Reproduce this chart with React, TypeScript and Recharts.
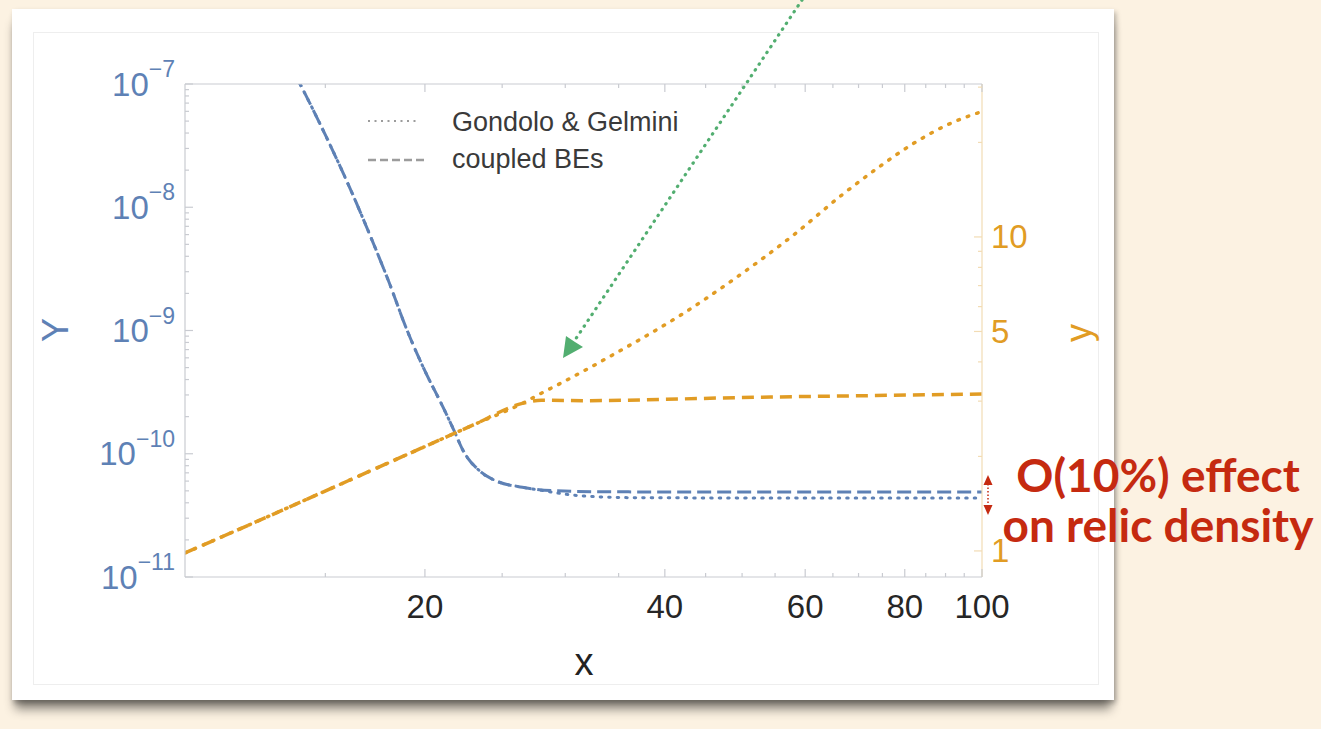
import React from 'react';
import { LineChart, Line, XAxis, YAxis } from 'recharts';

const BLUE = '#5E81B5';
const ORANGE = '#E19C24';
const FRAME = '#C9CBD1';
const FRAME_RIGHT = '#F2DCB4';
const RED = '#C52A10';
const GREEN = '#52AE70';
const FONT = '"Liberation Sans", Arial, Helvetica, sans-serif';

// Y abundance, coupled Boltzmann equations (left axis)
const coupledYX = [13, 14, 15, 16, 17, 18, 19, 20, 21, 21.8, 22.3, 23.4, 24.6, 26.5, 29.3, 33, 40, 60, 100];
const coupledY = [2.3e-7, 9.5e-8, 3.86e-8, 1.57e-8, 6.3e-9, 2.53e-9, 1.0e-9, 4.7e-10, 2.5e-10, 1.5e-10, 1.08e-10, 7.3e-11, 6.0e-11, 5.35e-11, 5.0e-11, 4.92e-11, 4.9e-11, 4.9e-11, 4.9e-11];

// Y abundance, Gondolo & Gelmini (left axis)
const gondoloYX = [13, 14, 15, 16, 17, 18, 19, 20, 21, 21.8, 22.3, 23.4, 24.6, 26.5, 28, 30, 33, 38, 60, 100];
const gondoloY = [2.3e-7, 9.5e-8, 3.86e-8, 1.57e-8, 6.3e-9, 2.53e-9, 1.0e-9, 4.7e-10, 2.5e-10, 1.5e-10, 1.08e-10, 7.3e-11, 6.0e-11, 5.35e-11, 5.05e-11, 4.7e-11, 4.47e-11, 4.39e-11, 4.38e-11, 4.38e-11];

// y, Gondolo & Gelmini (right axis)
const gondoloSmallX = [10, 13, 16, 20, 23, 26.5, 28, 29.8, 32, 34.4, 37.3, 41.7, 48.7, 57.8, 66.7, 74.5, 81.9, 90.3, 100];
const gondoloSmall = [0.985, 1.32, 1.67, 2.15, 2.52, 2.95, 3.18, 3.45, 3.8, 4.21, 4.73, 5.6, 7.3, 10.07, 13.6, 16.8, 19.8, 22.7, 25.1];

// y, coupled Boltzmann equations (right axis)
const coupledSmallX = [10, 13, 16, 20, 23, 26.5, 28, 32, 40, 50, 70, 100];
const coupledSmall = [0.985, 1.32, 1.67, 2.15, 2.52, 2.95, 3.02, 3.01, 3.04, 3.08, 3.12, 3.16];

const xMajorTicks = [20, 40, 60, 80, 100];
const xMinorTicks = [15, 25, 30, 35, 45, 50, 55, 65, 70, 75, 85, 90, 95];
const leftMajorTicks = [1e-11, 1e-10, 1e-9, 1e-8, 1e-7];
const leftExponents = ['−11', '−10', '−9', '−8', '−7'];
const rightMajorTicks = [1, 5, 10];
const rightMinorTicks = [2, 3, 4, 6, 7, 8, 9, 20, 30];

const leftMinorTicks: number[] = [];
for (let e = -11; e < -7; e++) {
  for (let k = 2; k <= 9; k++) leftMinorTicks.push(k * Math.pow(10, e));
}

const toPoints = (xs: number[], vs: number[]) => xs.map((x, i) => ({ x, v: vs[i] }));

const BottomTick = ({ x, y, payload }: any) => {
  const major = xMajorTicks.includes(payload.value);
  return (
    <g>
      <line x1={x} x2={x} y1={y} y2={y - (major ? 8 : 4)} stroke={FRAME} strokeWidth={1.2} />
      {major && (
        <text x={x} y={y + 29} textAnchor="middle" dominantBaseline="central" fontSize={33} fill="#262626" fontFamily={FONT}>
          {payload.value}
        </text>
      )}
    </g>
  );
};

const TopTick = ({ x, y, payload }: any) => {
  const major = xMajorTicks.includes(payload.value);
  return <line x1={x} x2={x} y1={y} y2={y + (major ? 8 : 4)} stroke={FRAME} strokeWidth={1.2} />;
};

const LeftTick = ({ x, y, payload }: any) => {
  const idx = leftMajorTicks.indexOf(payload.value);
  return (
    <g>
      <line x1={x} x2={x + (idx >= 0 ? 8 : 4)} y1={y} y2={y} stroke={FRAME} strokeWidth={1.2} />
      {idx >= 0 && (
        <text x={x - 10} y={y} textAnchor="end" dominantBaseline="central" fontSize={33} fill={BLUE} fontFamily={FONT}>
          10
          <tspan dy={-15} fontSize={23}>
            {leftExponents[idx]}
          </tspan>
        </text>
      )}
    </g>
  );
};

const RightTick = ({ x, y, payload }: any) => {
  const major = rightMajorTicks.includes(payload.value);
  return (
    <g>
      <line x1={x} x2={x - (major ? 8 : 4)} y1={y} y2={y} stroke={FRAME_RIGHT} strokeWidth={1.2} />
      {major && (
        <text x={x + 9} y={y} textAnchor="start" dominantBaseline="central" fontSize={33} fill={ORANGE} fontFamily={FONT}>
          {payload.value}
        </text>
      )}
    </g>
  );
};

export default function App() {
  return (
    <div style={{ position: 'absolute', left: 0, top: 0, width: 1321, height: 729, background: '#FCF2E2', overflow: 'hidden' }}>
      {/* white slide card */}
      <div
        style={{
          position: 'absolute', left: 12, top: 9, width: 1102, height: 691, background: '#fff',
          boxShadow: '2px 3px 5px rgba(0,0,0,0.28), 0 12px 10px -3px rgba(0,0,0,0.45)',
        }}
      />
      <div style={{ position: 'absolute', left: 33, top: 32, width: 1064, height: 651, border: '1px solid #EEEEEE' }} />

      <div style={{ position: 'absolute', left: 0, top: 0 }}>
        <LineChart width={1321} height={729} margin={{ top: 54, right: 259, bottom: 122, left: 105 }}>
          <XAxis
            xAxisId="b" dataKey="x" type="number" scale="log" domain={[10, 100]} allowDataOverflow
            ticks={[...xMajorTicks, ...xMinorTicks]} interval={0} height={30}
            tickSize={0} tickMargin={0} tick={<BottomTick />} axisLine={{ stroke: FRAME, strokeWidth: 1.2 }}
          />
          <XAxis
            xAxisId="t" orientation="top" dataKey="x" type="number" scale="log" domain={[10, 100]} allowDataOverflow
            ticks={[...xMajorTicks, ...xMinorTicks]} interval={0} height={30}
            tickSize={0} tickMargin={0} tick={<TopTick />} axisLine={{ stroke: FRAME, strokeWidth: 1.2 }}
          />
          <YAxis
            yAxisId="L" type="number" scale="log" domain={[1e-11, 1e-7]} allowDataOverflow
            ticks={[...leftMajorTicks, ...leftMinorTicks]} interval={0} width={80}
            tickSize={0} tickMargin={0} tick={<LeftTick />} axisLine={{ stroke: FRAME, strokeWidth: 1.2 }}
          />
          <YAxis
            yAxisId="R" orientation="right" type="number" scale="log" domain={[0.826, 30.7]} allowDataOverflow
            ticks={[...rightMajorTicks, ...rightMinorTicks]} interval={0} width={80}
            tickSize={0} tickMargin={0} tick={<RightTick />} axisLine={{ stroke: FRAME_RIGHT, strokeWidth: 1.2 }}
          />

          <Line
            xAxisId="b" yAxisId="L" data={toPoints(gondoloYX, gondoloY)} dataKey="v" type="monotone"
            stroke={BLUE} strokeWidth={3} strokeDasharray="1.5 7" strokeLinecap="round" dot={false} isAnimationActive={false}
          />
          <Line
            xAxisId="b" yAxisId="L" data={toPoints(coupledYX, coupledY)} dataKey="v" type="monotone"
            stroke={BLUE} strokeWidth={3} strokeDasharray="14 6" dot={false} isAnimationActive={false}
          />
          <Line
            xAxisId="b" yAxisId="R" data={toPoints(gondoloSmallX, gondoloSmall)} dataKey="v" type="monotone"
            stroke={ORANGE} strokeWidth={3.5} strokeDasharray="1.5 8.5" strokeLinecap="round" dot={false} isAnimationActive={false}
          />
          <Line
            xAxisId="b" yAxisId="R" data={toPoints(coupledSmallX, coupledSmall)} dataKey="v" type="monotone"
            stroke={ORANGE} strokeWidth={3.5} strokeDasharray="12 7" dot={false} isAnimationActive={false}
          />
        </LineChart>
      </div>

      <svg width={1321} height={729} style={{ position: 'absolute', left: 0, top: 0, pointerEvents: 'none' }}>
        {/* legend */}
        <line x1={368} x2={418} y1={121} y2={121} stroke="#9C9C9C" strokeWidth={2} strokeDasharray="2 4.5" />
        <line x1={368} x2={425} y1={160} y2={160} stroke="#9C9C9C" strokeWidth={2.5} strokeDasharray="8 4" />
        <text x={452} y={122} dominantBaseline="central" fontSize={27} fill="#3A3A3A" fontFamily={FONT}>Gondolo &amp; Gelmini</text>
        <text x={452} y={159} dominantBaseline="central" fontSize={27} fill="#3A3A3A" fontFamily={FONT}>coupled BEs</text>

        {/* axis titles */}
        <text transform="translate(55,330) rotate(-90)" textAnchor="middle" dominantBaseline="central" fontSize={36} fill={BLUE} fontFamily={FONT}>Y</text>
        <text transform="translate(1078,333) rotate(-90)" textAnchor="middle" dominantBaseline="central" fontSize={36} fill={ORANGE} fontFamily={FONT}>y</text>
        <text x={584} y={662} textAnchor="middle" dominantBaseline="central" fontSize={38} fill="#222" fontFamily={FONT}>x</text>

        {/* green pointer */}
        <line x1={806} y1={-6} x2={575} y2={340} stroke={GREEN} strokeWidth={3.2} strokeDasharray="0.5 6.5" strokeLinecap="round" />
        <polygon points="563,358 583,347 575,342 566,336" fill={GREEN} />

        {/* red double arrow */}
        <line x1={988} x2={988} y1={484} y2={506} stroke={RED} strokeWidth={1.5} strokeDasharray="1.5 2" />
        <polygon points="988,475 983.5,485 992.5,485" fill={RED} />
        <polygon points="988,515 983.5,505 992.5,505" fill={RED} />

        <text x={1158} y={492} textAnchor="middle" fontSize={46} fontWeight={700} fill={RED} fontFamily="Lato, 'Open Sans', sans-serif">O(10%) effect</text>
        <text x={1158} y={542} textAnchor="middle" fontSize={46} fontWeight={700} fill={RED} fontFamily="Lato, 'Open Sans', sans-serif">on relic density</text>
      </svg>
    </div>
  );
}
